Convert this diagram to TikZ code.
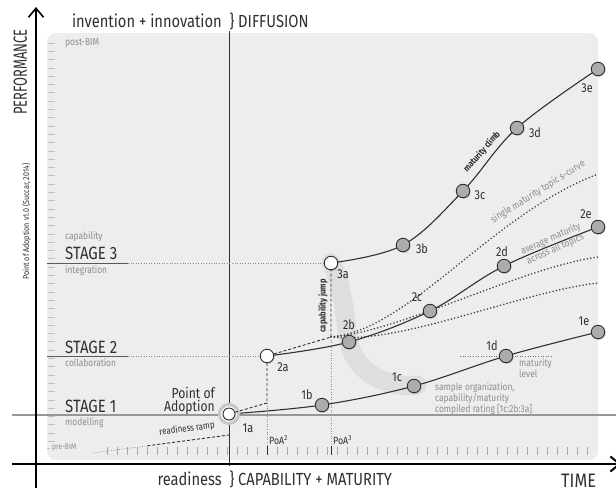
\documentclass[tikz,border=0pt]{standalone}
\usepackage{fontspec}
\setmainfont{Fira Sans}[FakeStretch=0.84]
\newfontfamily\narrowfont{Fira Sans}[FakeStretch=0.68]
\usetikzlibrary{arrows.meta,calc,positioning,shadows}
\definecolor{poaink}{RGB}{48,48,48}
\definecolor{poagrey}{RGB}{140,140,140}
\definecolor{poapanel}{RGB}{237,237,237}
\definecolor{poabean}{RGB}{222,222,222}
\definecolor{poafill}{RGB}{172,172,172}
\newcommand{\poasize}[1]{\fontsize{#1}{#1}\selectfont}

\begin{document}
\begin{tikzpicture}[x=1pt,y=-1pt,>={Straight Barb[length=9pt,width=15pt]},
    every node/.style={inner sep=0pt,text=poaink},
    stagept/.style={circle,draw=poaink,fill=poafill,line width=0.9pt,minimum size=13.5pt,
      drop shadow={opacity=0.3,shadow xshift=1pt,shadow yshift=-1.2pt}},
    entrypt/.style={stagept,fill=white},
    ptlabel/.style={font=\poasize{13}},
    stagename/.style={anchor=base west,font=\poasize{17.8}},
    levelnote/.style={anchor=west,text=poagrey,font=\poasize{10}},
    curvenote/.style={text=poagrey,font=\poasize{10}},
    axisnote/.style={font=\poasize{17.5}},
    climb/.style={draw=poaink,line width=1.1pt},
    trend/.style={draw=poaink!90,line width=1.8pt,line cap=round,dash pattern=on 0pt off 3.4pt},
    jump/.style={draw=poaink,line width=0.9pt,dash pattern=on 3pt off 2pt},
    guide/.style={draw=poagrey,line width=0.6pt,dash pattern=on 1pt off 1.6pt},
    tickmark/.style={draw=black!35,line width=0.8pt}]

  \useasboundingbox (0,0) rectangle (616,490);
  \fill[white] (0,0) rectangle (616,490);
  \fill[poapanel,rounded corners=9pt] (47,33) rectangle (598,460);

  % ticks
  \foreach \i in {0,...,48}
    \draw[tickmark,draw=black!25] (48,43+8.3*\i) -- (55,43+8.3*\i);
  \draw[tickmark,draw=black!25] (47,448) -- (50,448);
  \foreach \x in {107,117,...,587}
    \draw[tickmark] (\x,447) -- (\x,455);

  % axes and dividers
  \draw[poagrey!90,line width=1.3pt] (12,415) -- (616,415);
  \draw[poaink,line width=0.8pt] (229,31) -- (229,466);
  \draw[->,line width=1.6pt] (36,488) -- (36,7);
  \draw[->,line width=2pt] (12,464) -- (621,464);

  % points
  \coordinate (c1a) at (229,414);
  \coordinate (c1b) at (322,405);
  \coordinate (c1c) at (414,386);
  \coordinate (c1d) at (506,356);
  \coordinate (c1e) at (598,332);
  \coordinate (c2a) at (267,356);
  \coordinate (c2b) at (349,342);
  \coordinate (c2c) at (430,311);
  \coordinate (c2d) at (504,266);
  \coordinate (c2e) at (598,227);
  \coordinate (c3a) at (331,263);
  \coordinate (c3b) at (403,245);
  \coordinate (c3c) at (463,191);
  \coordinate (c3d) at (517,128);
  \coordinate (c3e) at (598,69);
  \coordinate (j2) at (267,403);
  \coordinate (j3) at (331,337);
  \coordinate (f2) at (267,447);
  \coordinate (f3) at (331,447);
  \coordinate (ramp0) at (93,453);
  \coordinate (ramp1) at (229,435);
  \coordinate (lvl0) at (460,356);
  \coordinate (lvl1) at (552,356);
  \coordinate (tA) at (598,174);
  \coordinate (tB) at (598,257);
  \coordinate (tC) at (598,283);

  \draw[poabean,line width=19pt,line cap=round,line join=round]
    (c3a) .. controls (345,290) and (344,318) .. (c2b) .. controls (354,372) and (390,390) .. (417,385);

  \draw[guide] (ramp0) -- ($(ramp0)!0.4!(ramp1)$);
  \draw[jump] ($(ramp0)!0.4!(ramp1)$) -- (ramp1);
  \draw[guide,draw=poaink!70] (lvl0) -- (lvl1);

  \draw[trend] (j3) .. controls (410,330) and (490,215) .. (tA);
  \draw[trend] (j3) .. controls (400,332) and (520,268) .. (tB);
  \draw[trend] (j3) .. controls (400,345) and (520,292) .. (tC);

  \draw[climb] plot[smooth,tension=0.6] coordinates {(c1a) (c1b) (c1c) (c1d) (c1e)};
  \draw[climb] plot[smooth,tension=0.6] coordinates {(c2a) (c2b) (c2c) (c2d) (c2e)};
  \draw[climb] plot[smooth,tension=0.6] coordinates {(c3a) (c3b) (c3c) (c3d) (c3e)};

  \draw[black!22,line width=3pt,fill=white] (c1a) circle[radius=9.5];
  \node[entrypt,minimum size=12pt,drop shadow={opacity=0}] (n1a) at (c1a) {};
  \node[entrypt] (n2a) at (c2a) {};
  \node[entrypt] (n3a) at (c3a) {};
  \foreach \p in {1b,1c,1d,1e,2b,2c,2d,2e,3b,3c,3d,3e}
    \node[stagept] (n\p) at (c\p) {};
  \foreach \p/\dx/\dy in {1a/19/14,1b/-15/-10,1c/-17/-9,1d/-14/-10,1e/-14/-11,
      2a/16/11,2b/0/-17,2c/-13/-14,2d/-2/-14,2e/-12/-13,
      3a/12/11,3b/19/4,3c/17/4,3d/18/5,3e/-11/19}
    \node[ptlabel] (l\p) at ([shift={(\dx,\dy)}]c\p) {\p};

  % jumps and adoption guides
  \draw[jump] (n1a) -- (j2) -- (n2a);
  \draw[jump] (n2a) -- (j3) -- (n3a);
  \draw[guide] (j2) -- (f2);
  \draw[guide] (j3) -- (f3);
  \draw[poaink,line width=0.8pt] (267,446) -- (267,455);
  \draw[poaink,line width=0.8pt] (331,446) -- (331,455);
  \draw[poaink!80,line width=1pt] (47,263) -- (128,263);
  \draw[guide] (128,263) -- (n3a);
  \draw[poaink!80,line width=1pt] (47,356) -- (128,356);
  \draw[guide] (128,356) -- (n2a);

  % texts
  \node[axisnote,anchor=base east] (tinv) at (222,27) {invention + innovation};
  \node[axisnote,anchor=base] (btop) at (232,27) {\}};
  \node[axisnote,anchor=base west] (tdif) at (238,27) {DIFFUSION};
  \node[axisnote,anchor=base east] (tread) at (222,485) {readiness};
  \node[axisnote,anchor=base] (bbot) at (232,485) {\}};
  \node[axisnote,anchor=base west] (tcap) at (238,485) {CAPABILITY + MATURITY};
  \node[font=\poasize{19.5},anchor=base west] (ttime) at (561,487) {TIME};
  \node[font=\narrowfont\poasize{19},rotate=90,anchor=base west] (tperf) at (27,115) {PERFORMANCE};
  \node[font=\poasize{8.5},rotate=90,anchor=base west] (tcred) at (29,280) {Point of Adoption v1.0 (Succar, 2014)};

  \node[stagename] (s3) at (65,259) {STAGE 3};
  \node[stagename] (s2) at (65,353) {STAGE 2};
  \node[stagename] (s1) at (65,412) {STAGE 1};
  \node[levelnote] (npost) at (65,43) {post-BIM};
  \node[levelnote] (ncap) at (65,237) {capability};
  \node[levelnote] (nint) at (65,271) {integration};
  \node[levelnote] (ncol) at (65,363) {collaboration};
  \node[levelnote] (nmod) at (65,423) {modelling};
  \node[levelnote,font=\poasize{8}] (npre) at (52,448) {pre-BIM};

  \node[align=right,anchor=east,font=\fontsize{14.5}{12.5}\selectfont] (tpoa) at (215,401) {Point of\\Adoption};
  \node[font=\poasize{9.5},rotate=7.5] (tramp) at (187,429) {readiness ramp};
  \node[font=\poasize{10.5},anchor=base west] (tpoa2) at (269,444) {PoA\textsuperscript{2}};
  \node[font=\poasize{10.5},anchor=base west] (tpoa3) at (333,444) {PoA\textsuperscript{3}};
  \node[font=\bfseries\poasize{9},rotate=90] (tjump) at (323,306) {capability jump};
  \node[font=\bfseries\poasize{9},rotate=49] (tclimb) at (482,152) {maturity climb};
  \node[curvenote,rotate=32] (tsingle) at (538,192) {single maturity topic s-curve};
  \node[curvenote,rotate=24,align=center,font=\fontsize{10}{11}\selectfont] (tavg) at (553,244) {average maturity\\across all topics};
  \node[curvenote,align=left,anchor=north west,font=\fontsize{10}{9.7}\selectfont] (tsample) at (435,382.5) {sample organization,\\capability/maturity\\compiled rating [1c:2b:3a]};
  \node[curvenote,align=left,anchor=north west,font=\fontsize{10}{9.5}\selectfont] (tlevel) at (519,358.5) {maturity\\level};
\end{tikzpicture}
\end{document}
